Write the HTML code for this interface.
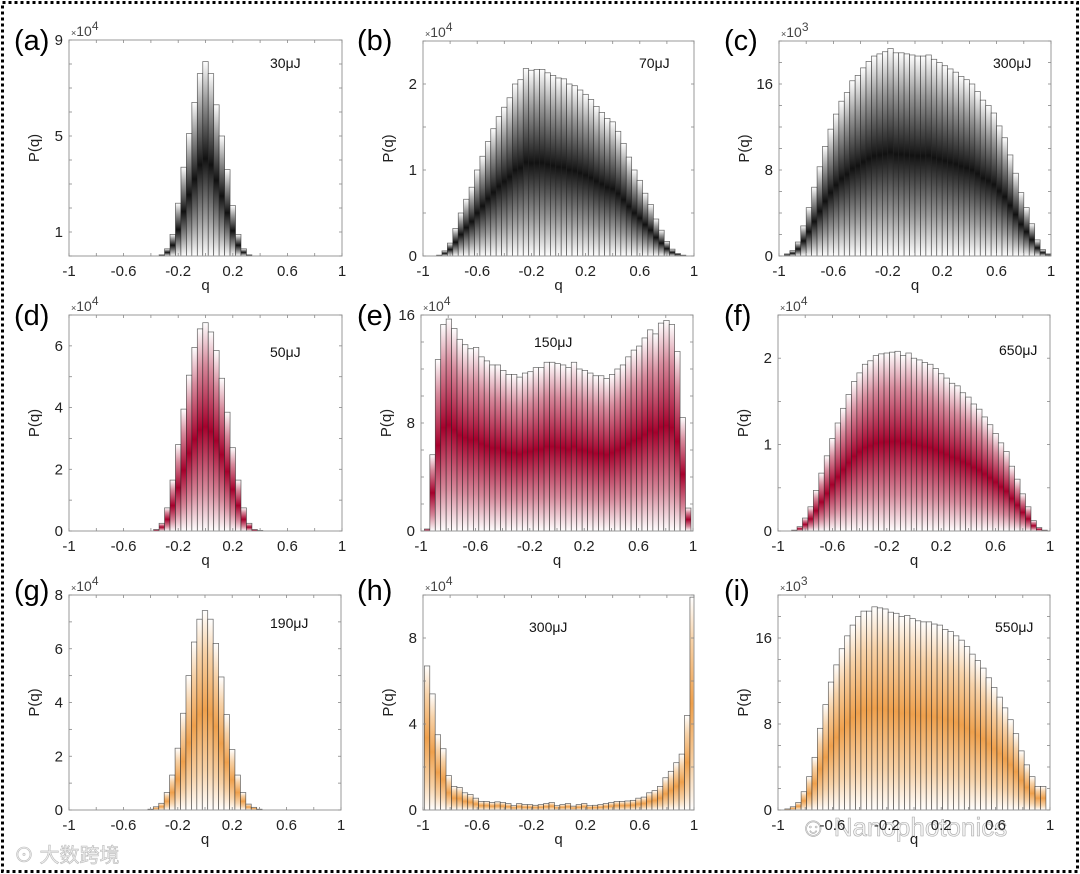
<!DOCTYPE html>
<html><head><meta charset="utf-8">
<style>
html,body{margin:0;padding:0;background:#fff;}
svg{display:block;font-family:"Liberation Sans","Noto Sans CJK SC",sans-serif;}
</style></head>
<body>
<svg id="fig" width="1080" height="874" viewBox="0 0 1080 874" xmlns="http://www.w3.org/2000/svg">
<defs>
<linearGradient id="g-black" x1="0" y1="0" x2="0" y2="1"><stop offset="0" stop-color="#fff"/><stop offset="0.2" stop-color="#999"/><stop offset="0.5" stop-color="#111"/><stop offset="0.8" stop-color="#999"/><stop offset="1" stop-color="#fff"/></linearGradient>
<linearGradient id="g-red" x1="0" y1="0" x2="0" y2="1"><stop offset="0" stop-color="#fff"/><stop offset="0.2" stop-color="#d78a9c"/><stop offset="0.5" stop-color="#a6002c"/><stop offset="0.8" stop-color="#d78a9c"/><stop offset="1" stop-color="#fff"/></linearGradient>
<linearGradient id="g-orange" x1="0" y1="0" x2="0" y2="1"><stop offset="0" stop-color="#fff"/><stop offset="0.2" stop-color="#f7d2a8"/><stop offset="0.5" stop-color="#efa04c"/><stop offset="0.8" stop-color="#f7d2a8"/><stop offset="1" stop-color="#fff"/></linearGradient>
</defs>
<rect x="2.5" y="2.5" width="1075" height="869" fill="none" stroke="#000" stroke-width="3" stroke-dasharray="3 3"/>
<text x="14" y="862" font-size="20" fill="#eee" stroke="#bbb" stroke-width="0.6">⊙ 大数跨境</text>
<text x="800" y="836" font-size="26" fill="#f4f4f4" stroke="#aaa" stroke-width="0.6">☺ Nanophotonics</text>
<g id="plots"></g>
</svg>
<script>
// ---- data (bin width 0.04 in q; values in units of the axis multiplier) ----
const binWidth = 0.04;
const binStartA = -0.34;
const valuesA = [0.05,0.3,0.9,2.2,3.7,5.1,6.4,7.6,8.1,7.6,6.3,5.0,3.6,2.1,0.9,0.3,0.05];
const binStartB = -0.90;
const valuesB = [0.01,0.06,0.15,0.32,0.5,0.66,0.8,1.0,1.16,1.33,1.48,1.62,1.73,1.84,2.0,2.05,2.18,2.16,2.17,2.17,2.13,2.1,2.07,2.06,2.0,1.98,1.93,1.88,1.82,1.74,1.67,1.6,1.56,1.45,1.31,1.15,1.0,0.88,0.73,0.6,0.43,0.3,0.17,0.08,0.03,0.01];
const binStartC = -0.96;
const valuesC = [0.2,0.5,1.3,2.8,4.5,6.4,8.3,10.2,11.8,13.2,14.4,15.2,16.3,16.8,17.5,18.1,18.6,18.8,19.0,19.3,18.9,18.9,18.8,18.7,18.6,18.6,18.7,18.3,18.0,17.7,17.4,17.1,16.7,16.4,16.0,15.3,14.5,14.0,13.3,12.1,11.0,9.4,7.7,5.9,4.5,3.0,1.5,0.6,0.2];
const binStartD = -0.38;
const valuesD = [0.05,0.25,0.75,1.65,2.8,3.95,5.05,5.95,6.55,6.75,6.45,5.85,4.95,3.85,2.7,1.65,0.75,0.25,0.05,0.02];
const binStartE = -0.975;
const valuesE = [0.15,5.65,12.7,15.3,15.7,15.0,14.2,13.8,13.5,13.6,12.9,12.6,12.3,12.3,11.9,11.6,11.6,11.4,11.7,11.8,12.1,12.1,12.5,12.5,12.4,12.3,12.1,12.5,12.0,11.9,11.7,11.5,11.5,11.3,11.6,12.0,12.3,12.9,13.4,13.7,14.3,14.9,14.6,15.4,15.6,15.3,13.3,8.4,1.7];
const binStartF = -0.90;
const valuesF = [0.01,0.05,0.15,0.28,0.47,0.67,0.87,1.07,1.25,1.42,1.58,1.73,1.83,1.93,1.97,2.03,2.05,2.06,2.07,2.08,2.03,2.06,2.0,1.98,1.95,1.93,1.88,1.82,1.77,1.71,1.68,1.6,1.55,1.47,1.41,1.32,1.23,1.13,1.02,0.92,0.75,0.6,0.43,0.28,0.12,0.04,0.01];
const binStartG = -0.42;
const valuesG = [0.03,0.12,0.25,0.65,1.3,2.3,3.6,5.0,6.25,7.1,7.42,7.1,6.2,4.95,3.55,2.25,1.3,0.65,0.22,0.1,0.03];
const binStartH = -0.99;
const valuesH = [6.7,5.4,3.5,2.85,1.6,1.1,1.05,0.8,0.72,0.55,0.4,0.4,0.35,0.38,0.35,0.3,0.2,0.3,0.25,0.25,0.22,0.25,0.3,0.35,0.2,0.25,0.3,0.18,0.25,0.3,0.2,0.22,0.25,0.3,0.35,0.4,0.4,0.42,0.45,0.55,0.6,0.8,0.9,1.1,1.5,1.8,2.2,2.6,4.4,9.9];
const binStartI = -0.95;
const valuesI = [0.1,0.3,0.7,1.7,3.1,4.9,7.6,9.8,11.9,13.5,15.0,16.2,17.2,18.0,18.5,18.5,18.9,18.8,18.7,18.4,18.3,18.0,18.1,17.8,17.6,17.5,17.5,17.3,17.2,16.8,16.6,16.2,15.8,15.2,14.5,13.9,13.2,12.3,11.4,10.5,9.5,8.4,7.1,5.5,4.2,3.1,2.2,2.2];
const xTickLabels = ["-1","-0.6","-0.2","0.2","0.6","1"];
const xTickValues = [-1,-0.6,-0.2,0.2,0.6,1];
const yLabelsA = [1,5,9], yLabelsB = [0,1,2], yLabelsC = [0,8,16], yLabelsD = [0,2,4,6], yLabelsE = [0,8,16];
const yLabelsF = [0,1,2], yLabelsG = [0,2,4,6,8], yLabelsH = [0,4,8], yLabelsI = [0,8,16];
const energies = ["30μJ","70μJ","300μJ","50μJ","150μJ","650μJ","190μJ","300μJ","550μJ"];

const panels = [
 {k:"a",x0:69,x1:342,y0:40,y1:256,ymax:9,step:1,labels:yLabelsA,start:binStartA,vals:valuesA,exp:"4",g:"g-black",ex:270,ey:68,lx:14,ly:50},
 {k:"b",x0:423,x1:694,y0:41,y1:256,ymax:2.5,step:0.5,labels:yLabelsB,start:binStartB,vals:valuesB,exp:"4",g:"g-black",ex:639,ey:68,lx:357,ly:50},
 {k:"c",x0:779,x1:1051,y0:41,y1:256,ymax:20,step:2,labels:yLabelsC,start:binStartC,vals:valuesC,exp:"3",g:"g-black",ex:993,ey:68,lx:724,ly:50},
 {k:"d",x0:69,x1:342,y0:315,y1:531,ymax:7,step:1,labels:yLabelsD,start:binStartD,vals:valuesD,exp:"4",g:"g-red",ex:270,ey:357,lx:14,ly:325},
 {k:"e",x0:421,x1:693,y0:315,y1:531,ymax:16,step:2,labels:yLabelsE,start:binStartE,vals:valuesE,exp:"4",g:"g-red",ex:534,ey:347,lx:357,ly:325},
 {k:"f",x0:778,x1:1050,y0:315,y1:531,ymax:2.5,step:0.5,labels:yLabelsF,start:binStartF,vals:valuesF,exp:"4",g:"g-red",ex:999,ey:355,lx:724,ly:325},
 {k:"g",x0:69,x1:341,y0:595,y1:810,ymax:8,step:1,labels:yLabelsG,start:binStartG,vals:valuesG,exp:"4",g:"g-orange",ex:270,ey:628,lx:14,ly:600},
 {k:"h",x0:423,x1:694,y0:595,y1:810,ymax:10,step:2,labels:yLabelsH,start:binStartH,vals:valuesH,exp:"4",g:"g-orange",ex:529,ey:632,lx:357,ly:600},
 {k:"i",x0:778,x1:1050,y0:595,y1:810,ymax:20,step:2,labels:yLabelsI,start:binStartI,vals:valuesI,exp:"3",g:"g-orange",ex:995,ey:632,lx:724,ly:600}
];
const NS="http://www.w3.org/2000/svg";
const root=document.getElementById("plots");
function mk(tag,attrs,parent){const e=document.createElementNS(NS,tag);for(const a in attrs)e.setAttribute(a,attrs[a]);parent.appendChild(e);return e;}

panels.forEach((p,pi)=>{
  const g=mk("g",{},root);
  
  
  const xs=q=>p.x0+(q+1)/2*(p.x1-p.x0);
  const ys=v=>p.y1-v/p.ymax*(p.y1-p.y0);
  const cid="clip-"+p.k;
  const cp=mk("clipPath",{id:cid},g);
  mk("rect",{x:p.x0,y:p.y0,width:p.x1-p.x0,height:p.y1-p.y0},cp);
  const bars=mk("g",{"clip-path":"url(#"+cid+")"},g);
  
  
  p.vals.forEach((v,i)=>{
    const ql=p.start+i*binWidth, qr=ql+binWidth;
    const h=p.y1-ys(v);
    if(h<=0) return;
    const r=mk("rect",{x:xs(ql),y:ys(v),width:xs(qr)-xs(ql),height:h,fill:"url(#"+p.g+")",stroke:"#222","stroke-opacity":"0.7","stroke-width":"0.7"},bars);
    
    
  });
  const box=mk("rect",{x:p.x0,y:p.y0,width:p.x1-p.x0,height:p.y1-p.y0,fill:"none",stroke:"#999","stroke-width":"1"},g);
  
  
  for(let t=-10;t<=10;t+=2){const q=t/10;const x=xs(q);
    mk("line",{x1:x,x2:x,y1:p.y1,y2:p.y1-3,stroke:"#888","stroke-width":"0.8"},g);
    mk("line",{x1:x,x2:x,y1:p.y0,y2:p.y0+3,stroke:"#888","stroke-width":"0.8"},g);}
  xTickValues.forEach((q,i)=>{const t=mk("text",{x:xs(q),y:p.y1+20,"font-size":"15","text-anchor":"middle",fill:"#222"},g);t.textContent=xTickLabels[i];
    
    });
  for(let v=0;v<=p.ymax+1e-9;v+=p.step){const y=ys(v);
    mk("line",{x1:p.x0,x2:p.x0+3,y1:y,y2:y,stroke:"#888","stroke-width":"0.8"},g);
    mk("line",{x1:p.x1,x2:p.x1-3,y1:y,y2:y,stroke:"#888","stroke-width":"0.8"},g);}
  p.labels.forEach(v=>{const t=mk("text",{x:p.x0-6,y:ys(v)+5,"font-size":"15","text-anchor":"end",fill:"#222"},g);t.textContent=v;
    
    });
  const m=mk("text",{x:p.x0+2,y:p.y0-4,"font-size":"14",fill:"#444"},g);
  m.innerHTML='<tspan font-size="9">×</tspan>10<tspan dy="-6" font-size="12">'+p.exp+'</tspan>';
  
  
  const xt=mk("text",{x:(p.x0+p.x1)/2,y:p.y1+34,"font-size":"15","text-anchor":"middle",fill:"#222"},g);xt.textContent="q";
  
  
  const cy=(p.y0+p.y1)/2;
  const yt=mk("text",{x:p.x0-30,y:cy,"font-size":"15","text-anchor":"middle",fill:"#222",transform:"rotate(-90 "+(p.x0-30)+" "+cy+")"},g);yt.textContent="P(q)";
  
  
  const el=mk("text",{x:p.ex,y:p.ey,"font-size":"14",fill:"#111"},g);el.textContent=energies[pi];
  
  
  const pl=mk("text",{x:p.lx,y:p.ly,"font-size":"29",fill:"#000"},g);pl.textContent="("+p.k+")";
  
  
});
</script>
</body></html>
